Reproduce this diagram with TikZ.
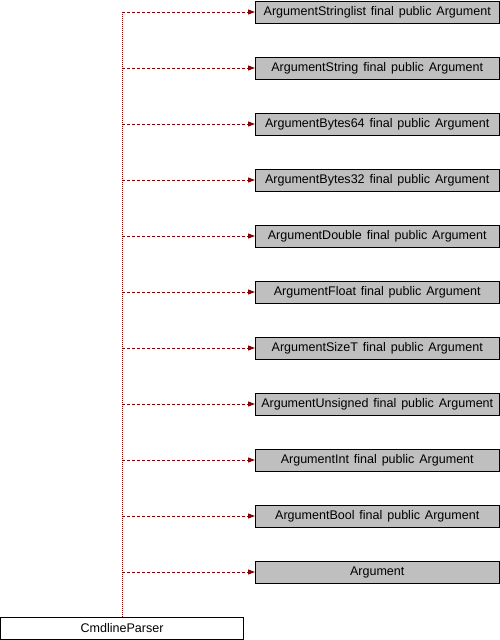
\documentclass[tikz,border=0pt]{standalone}
\usepackage{fontspec}
\setmainfont[WordSpace=1.4]{Liberation Sans}
\usetikzlibrary{arrows.meta}
\definecolor{edgered}{HTML}{8B0000}
\definecolor{boxgray}{HTML}{BFBFBF}
\begin{document}
\begin{tikzpicture}[x=0.75pt,y=-0.75pt,
  cls/.style={draw=black,line width=0.75pt,fill=boxgray,minimum width=243.5*0.75pt,minimum height=22*0.75pt,inner sep=0pt,font=\fontsize{9.4pt}{11pt}\selectfont},
  base/.style={cls,fill=white,minimum width=243*0.75pt},
  inh/.style={draw=edgered,line width=0.75pt,dash pattern=on 2.25pt off 1.5pt,-{Triangle[length=5.25pt,width=3.75pt,fill=edgered]}},
  trunk/.style={draw=edgered,line width=0.75pt,dash pattern=on 0.75pt off 0.75pt}]
\useasboundingbox (0,0) rectangle (500,640);
\foreach \i/\t in {0/ArgumentStringlist final public Argument,
  1/ArgumentString final public Argument,
  2/ArgumentBytes64 final public Argument,
  3/ArgumentBytes32 final public Argument,
  4/ArgumentDouble final public Argument,
  5/ArgumentFloat final public Argument,
  6/ArgumentSizeT final public Argument,
  7/ArgumentUnsigned final public Argument,
  8/ArgumentInt final public Argument,
  9/ArgumentBool final public Argument,
  10/Argument}
  \node[cls] (b\i) at (377.25,{12+56*\i}) {\t};
\node[base] (cmd) at (122,628) {CmdlineParser};
\draw[trunk] (cmd.north) -- (cmd.north |- b0.west);
\foreach \i in {0,...,10}
  \draw[inh] (cmd.north |- b\i.west) -- (b\i.west);
\end{tikzpicture}
\end{document}
